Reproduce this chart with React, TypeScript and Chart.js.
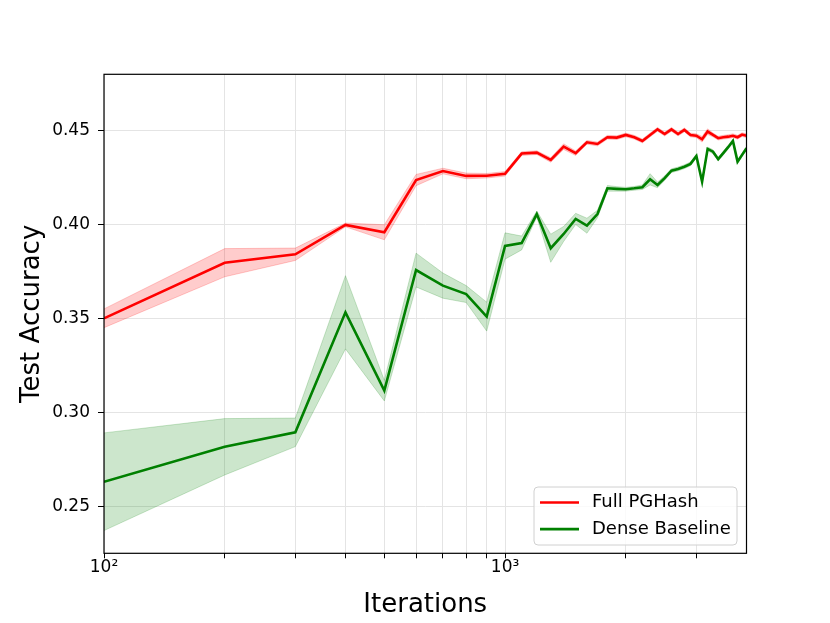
import { useEffect, useRef } from "react";
import { Chart, registerables } from "chart.js";

Chart.register(...registerables);

const iterations = [
  100, 200, 300, 400, 500, 600, 700, 800, 900, 1000,
  1100, 1200, 1300, 1400, 1500, 1600, 1700, 1800, 1900, 2000,
  2100, 2200, 2300, 2400, 2500, 2600, 2700, 2800, 2900, 3000,
  3100, 3200, 3300, 3400, 3500, 3600, 3700, 3800, 3900, 4000,
];

const fullPGHash = [
  0.3501, 0.3797, 0.3842, 0.3998, 0.3959, 0.4237, 0.4285, 0.4259, 0.426, 0.427,
  0.4378, 0.4383, 0.4344, 0.4415, 0.438, 0.4438, 0.4429, 0.4465, 0.4463, 0.4477,
  0.4465, 0.4445, 0.4477, 0.4507, 0.4482, 0.4507, 0.4482, 0.4504, 0.4477, 0.4473,
  0.4454, 0.4495, 0.4477, 0.446, 0.4465, 0.4468, 0.4473, 0.4465, 0.4479, 0.4473,
];

const fullPGHashSpread = [
  0.005, 0.0075, 0.0033, 0.001, 0.004, 0.003, 0.0015, 0.0015, 0.0012, 0.0012,
  0.001, 0.001, 0.0012, 0.0015, 0.0012, 0.001, 0.001, 0.001, 0.001, 0.001,
  0.001, 0.001, 0.001, 0.001, 0.001, 0.001, 0.001, 0.001, 0.001, 0.001,
  0.0015, 0.0015, 0.001, 0.001, 0.001, 0.001, 0.001, 0.001, 0.001, 0.001,
];

const denseBaseline = [
  0.2631, 0.2817, 0.2894, 0.3533, 0.3116, 0.3758, 0.3675, 0.363, 0.351, 0.3886,
  0.3902, 0.4056, 0.3874, 0.395, 0.403, 0.3994, 0.4056, 0.4193, 0.419, 0.4188,
  0.4193, 0.4199, 0.4241, 0.4211, 0.4247, 0.4287, 0.4296, 0.4308, 0.4323, 0.4365,
  0.4228, 0.4403, 0.4388, 0.4348, 0.438, 0.4412, 0.4445, 0.4335, 0.4371, 0.4406,
];

const denseBaselineSpread = [
  0.026, 0.015, 0.0076, 0.0195, 0.0055, 0.009, 0.0067, 0.0045, 0.0077, 0.007,
  0.0037, 0.0016, 0.0075, 0.004, 0.003, 0.004, 0.002, 0.0015, 0.0012, 0.001,
  0.001, 0.0012, 0.003, 0.0015, 0.0012, 0.001, 0.001, 0.001, 0.001, 0.001,
  0.001, 0.001, 0.001, 0.001, 0.001, 0.001, 0.001, 0.001, 0.001, 0.001,
];

const xTicks = [100, 200, 300, 400, 500, 600, 700, 800, 900, 1000, 2000, 3000];
const xTickLabels: Record<number, string> = { 100: "10²", 1000: "10³" };
const yTicks = [0.25, 0.3, 0.35, 0.4, 0.45];

const legendItems = [
  { label: "Full PGHash", color: "#ff0000" },
  { label: "Dense Baseline", color: "#008000" },
];

const FONT = "'DejaVu Sans', sans-serif";

const points = (vals: number[]) => iterations.map((x, i) => ({ x, y: vals[i] }));
const shifted = (vals: number[], spread: number[], sign: number) =>
  iterations.map((x, i) => ({ x, y: vals[i] + sign * spread[i] }));

const framePlugin = {
  id: "frameAndLegend",
  afterDraw(chart: Chart) {
    const { ctx, chartArea: a } = chart;
    ctx.save();
    ctx.strokeStyle = "#000";
    ctx.lineWidth = 1.2;
    ctx.strokeRect(a.left, a.top, a.right - a.left, a.bottom - a.top);

    // legend box, lower right inside the axes
    const w = 203;
    const h = 58;
    const bx = a.right - 9.5 - w;
    const by = a.bottom - 8.3 - h;
    ctx.beginPath();
    (ctx as any).roundRect(bx, by, w, h, 4);
    ctx.fillStyle = "rgba(255,255,255,0.8)";
    ctx.fill();
    ctx.strokeStyle = "#d0d0d0";
    ctx.lineWidth = 1;
    ctx.stroke();

    ctx.font = `18px ${FONT}`;
    ctx.textBaseline = "middle";
    ctx.textAlign = "left";
    legendItems.forEach((item, i) => {
      const ly = by + 15.5 + i * 26.6;
      ctx.beginPath();
      ctx.moveTo(bx + 6, ly);
      ctx.lineTo(bx + 45, ly);
      ctx.strokeStyle = item.color;
      ctx.lineWidth = 2.6;
      ctx.stroke();
      ctx.fillStyle = "#000";
      ctx.fillText(item.label, bx + 58, ly);
    });
    ctx.restore();
  },
};

export default function App() {
  const canvasRef = useRef<HTMLCanvasElement>(null);
  const chartRef = useRef<Chart | null>(null);

  useEffect(() => {
    document.body.style.margin = "0";
    if (!canvasRef.current) return;
    if (chartRef.current) chartRef.current.destroy();

    const band = (color: string) => ({
      pointRadius: 0,
      borderWidth: 1,
      borderColor: color,
      backgroundColor: color,
      tension: 0,
    });

    chartRef.current = new Chart(canvasRef.current, {
      type: "line",
      data: {
        datasets: [
          {
            label: legendItems[0].label,
            data: points(fullPGHash),
            borderColor: "#ff0000",
            borderWidth: 2.6,
            pointRadius: 0,
            fill: false,
          },
          {
            label: legendItems[1].label,
            data: points(denseBaseline),
            borderColor: "#008000",
            borderWidth: 2.6,
            pointRadius: 0,
            fill: false,
          },
          { label: "pg-upper", data: shifted(fullPGHash, fullPGHashSpread, 1), fill: false, ...band("rgba(255,0,0,0.2)") },
          { label: "pg-lower", data: shifted(fullPGHash, fullPGHashSpread, -1), fill: "-1", ...band("rgba(255,0,0,0.2)") },
          { label: "db-upper", data: shifted(denseBaseline, denseBaselineSpread, 1), fill: false, ...band("rgba(0,128,0,0.2)") },
          { label: "db-lower", data: shifted(denseBaseline, denseBaselineSpread, -1), fill: "-1", ...band("rgba(0,128,0,0.2)") },
        ],
      },
      options: {
        responsive: false,
        animation: false,
        layout: { padding: { left: 0, right: 83.5, top: 74.3, bottom: 0 } },
        plugins: {
          legend: { display: false },
          tooltip: { enabled: false },
        },
        scales: {
          x: {
            type: "logarithmic",
            min: 100,
            max: 4000,
            afterBuildTicks: (scale: any) => {
              scale.ticks = xTicks.map((v) => ({ value: v, major: v in xTickLabels }));
            },
            afterFit: (scale: any) => {
              scale.height = 623 - 553.3;
            },
            ticks: {
              autoSkip: false,
              maxRotation: 0,
              padding: 1,
              color: "#000",
              font: { family: FONT, size: 17, lineHeight: 1 },
              callback: (value: any) => xTickLabels[Number(value)] ?? "",
            },
            grid: { color: "#e4e4e4", tickColor: "#000", tickLength: 5 },
            border: { display: false },
            title: {
              display: true,
              text: "Iterations",
              color: "#000",
              font: { family: FONT, size: 26 },
              padding: { top: 0, bottom: 2.4 },
            },
          },
          y: {
            type: "linear",
            min: 0.225,
            max: 0.48,
            afterBuildTicks: (scale: any) => {
              scale.ticks = yTicks.map((v) => ({ value: v }));
            },
            afterFit: (scale: any) => {
              scale.width = 104;
            },
            ticks: {
              padding: 8,
              color: "#000",
              font: { family: FONT, size: 17 },
              callback: (value: any) => Number(value).toFixed(2),
            },
            grid: { color: "#e4e4e4", tickColor: "#000", tickLength: 6 },
            border: { display: false },
            title: {
              display: true,
              text: "Test Accuracy",
              color: "#000",
              font: { family: FONT, size: 26 },
              padding: { top: 17, bottom: 0 },
            },
          },
        },
      },
      plugins: [framePlugin],
    });

    return () => {
      chartRef.current?.destroy();
      chartRef.current = null;
    };
  }, []);

  return (
    <div style={{ width: 830, height: 623 }}>
      <canvas ref={canvasRef} width={830} height={623} style={{ width: 830, height: 623 }} />
    </div>
  );
}
